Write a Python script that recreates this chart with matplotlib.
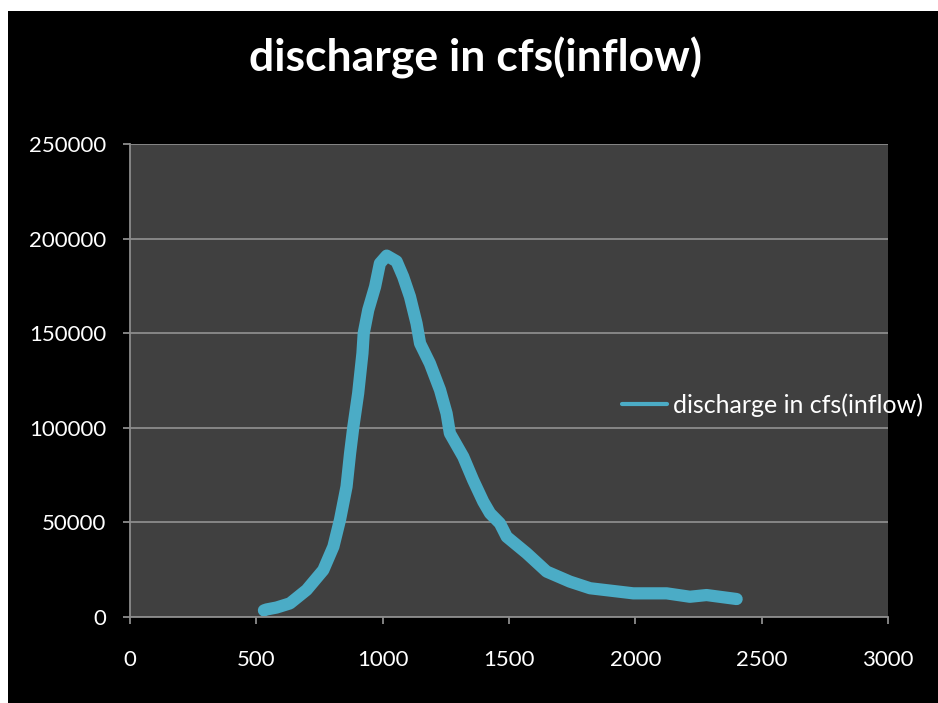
import matplotlib
matplotlib.use("Agg")
import matplotlib.pyplot as plt
from matplotlib.patches import Rectangle

x_vals = [530, 541, 580, 633, 699, 765, 805, 831, 857, 871, 884, 903, 920, 925, 943, 970, 989,
          1016, 1055, 1081, 1108, 1134, 1148, 1187, 1227, 1253, 1266, 1319, 1358, 1398, 1425,
          1464, 1491, 1570, 1649, 1741, 1821, 1992, 2124, 2216, 2282, 2401]
discharge = [3500, 4000, 5000, 7200, 14300, 24800, 37200, 51300, 68900, 86500, 100600, 118200,
             139400, 150000, 162300, 174600, 186900, 191000, 188000, 179900, 169300, 155200,
             144600, 134000, 120000, 107600, 97100, 84700, 72400, 61000, 54800, 49500, 42400,
             33700, 24000, 18700, 15200, 12500, 12500, 10700, 11600, 9500]

title = "discharge in cfs(inflow)"
series_name = "discharge in cfs(inflow)"
xticks = [0, 500, 1000, 1500, 2000, 2500, 3000]
yticks = [0, 50000, 100000, 150000, 200000, 250000]

W, H = 938, 703
fig = plt.figure(figsize=(W / 100, H / 100), dpi=100, facecolor="black")
fig.patches.append(Rectangle((0, 0), 8 / W, 1, transform=fig.transFigure,
                             facecolor="white", edgecolor="none", zorder=-1))
fig.patches.append(Rectangle((0, 1 - 11 / H), 1, 11 / H, transform=fig.transFigure,
                             facecolor="white", edgecolor="none", zorder=-1))

font = "Lato"
ax = fig.add_axes([130 / W, 1 - 617 / H, (888 - 130) / W, (617 - 144) / H])
ax.set_facecolor("#404040")
ax.plot(x_vals, discharge, color="#4BACC6", lw=8.8, solid_capstyle="round",
        solid_joinstyle="round", label=series_name)
ax.set_xlim(0, 3000)
ax.set_ylim(0, 250000)
ax.set_xticks(xticks)
ax.set_yticks(yticks)
ax.set_xticklabels([str(t) for t in xticks])
ax.set_yticklabels([str(t) for t in yticks])
ax.yaxis.grid(True, color="#8c8c8c", lw=1.3)
ax.set_axisbelow(True)
for s in ["top", "right"]:
    ax.spines[s].set_visible(False)
for s in ["left", "bottom"]:
    ax.spines[s].set_color("#8c8c8c")
    ax.spines[s].set_linewidth(1.3)
ax.tick_params(axis="both", colors="#8c8c8c", length=5, width=1.3, direction="out",
               labelcolor="white", labelsize=16)
ax.tick_params(axis="x", pad=19)
ax.tick_params(axis="y", pad=12)
for lab in ax.get_xticklabels() + ax.get_yticklabels():
    lab.set_fontfamily(font)

leg = ax.legend(loc="center left", bbox_to_anchor=(622 / W, 1 - 405 / H),
                bbox_transform=fig.transFigure, frameon=False,
                prop={"family": font, "size": 18}, handlelength=1.8, handletextpad=0.25,
                borderpad=0, borderaxespad=0)
for t in leg.get_texts():
    t.set_color("white")
for l in leg.get_lines():
    l.set_linewidth(3)

fig.text(475 / W, 1 - 58 / H, title, ha="center", va="center", color="white",
         fontsize=32, fontweight="bold", family=font)

fig.savefig("out.png", dpi=100, facecolor=fig.get_facecolor())
